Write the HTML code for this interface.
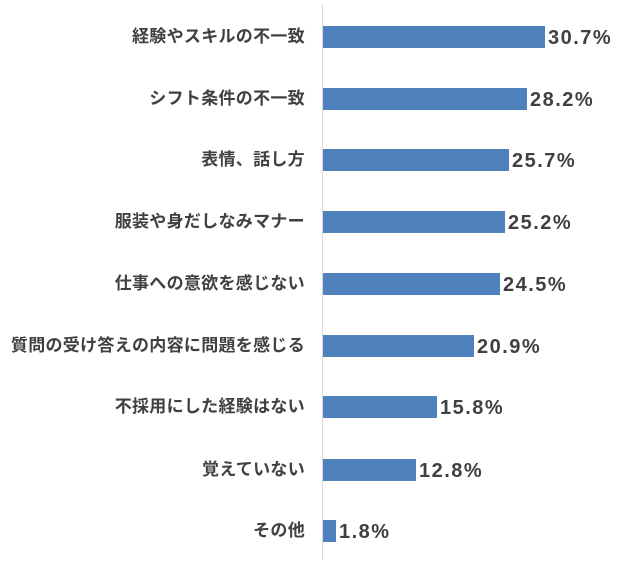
<!DOCTYPE html>
<html><head><meta charset="utf-8"><style>
body{margin:0;width:620px;height:562px;background:#fff;position:relative;overflow:hidden;font-family:"Liberation Sans","Noto Sans CJK JP",sans-serif;}
.l{position:absolute;right:315px;font-size:17px;font-weight:bold;color:#404040;white-space:nowrap;line-height:22px;letter-spacing:0.3px;}
.b{position:absolute;left:323px;height:22px;background:#4f81bd;}
.v{position:absolute;font-size:20px;font-weight:bold;color:#404040;line-height:22px;letter-spacing:1.5px;}
.ax{position:absolute;left:322px;top:4px;width:1px;height:556px;background:#d9d9d9;}
</style></head><body>
<div class="ax"></div>
<div class="l" style="top:26px">経験やスキルの不一致</div><div class="b" style="top:26px;width:222px"></div><div class="v" style="top:27px;left:548px">30.7%</div>
<div class="l" style="top:88px">シフト条件の不一致</div><div class="b" style="top:88px;width:204px"></div><div class="v" style="top:89px;left:530px">28.2%</div>
<div class="l" style="top:149px">表情、話し方</div><div class="b" style="top:149px;width:186px"></div><div class="v" style="top:150px;left:512px">25.7%</div>
<div class="l" style="top:211px">服装や身だしなみマナー</div><div class="b" style="top:211px;width:182px"></div><div class="v" style="top:212px;left:508px">25.2%</div>
<div class="l" style="top:273px">仕事への意欲を感じない</div><div class="b" style="top:273px;width:177px"></div><div class="v" style="top:274px;left:503px">24.5%</div>
<div class="l" style="top:335px">質問の受け答えの内容に問題を感じる</div><div class="b" style="top:335px;width:151px"></div><div class="v" style="top:336px;left:477px">20.9%</div>
<div class="l" style="top:396px">不採用にした経験はない</div><div class="b" style="top:396px;width:114px"></div><div class="v" style="top:397px;left:440px">15.8%</div>
<div class="l" style="top:459px">覚えていない</div><div class="b" style="top:459px;width:93px"></div><div class="v" style="top:460px;left:419px">12.8%</div>
<div class="l" style="top:520px">その他</div><div class="b" style="top:520px;width:13px"></div><div class="v" style="top:521px;left:339px">1.8%</div>
</body></html>
